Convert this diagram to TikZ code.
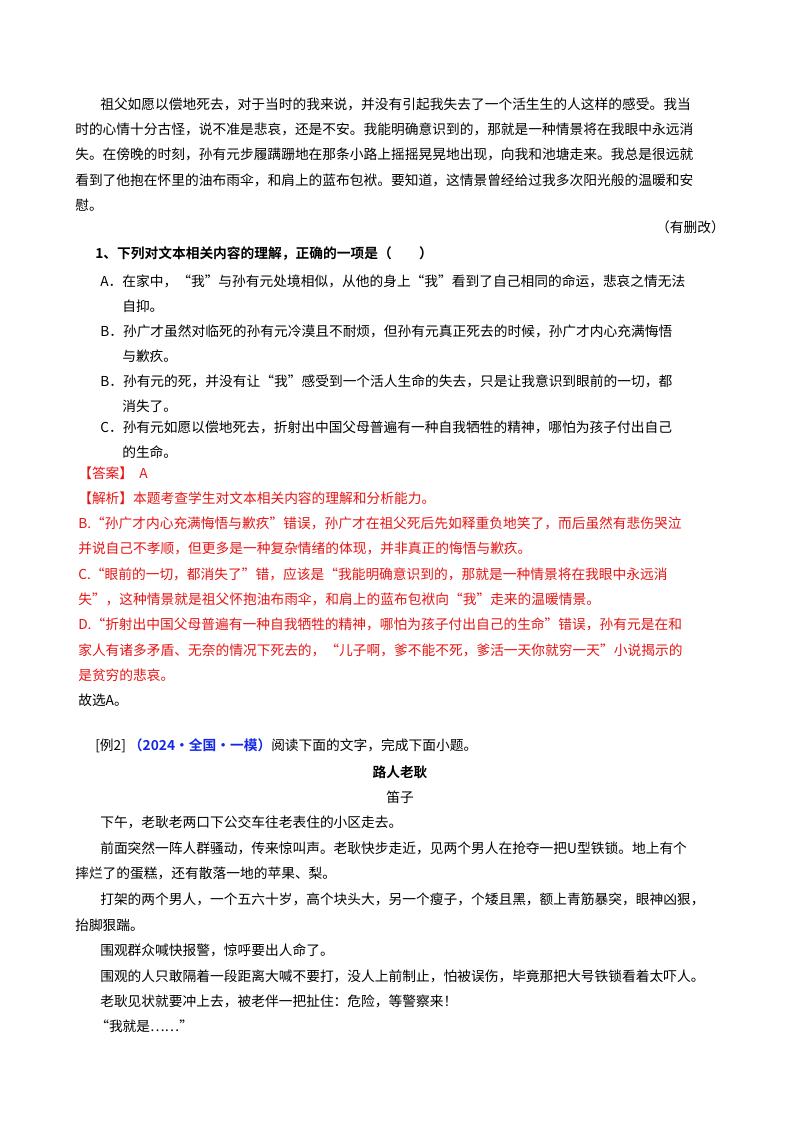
\documentclass[tikz,border=0pt]{standalone}
\usepackage{fontspec}
\setmainfont{Liberation Serif}
\newfontfamily\cjk{Noto Sans CJK SC}
\newfontfamily\cjkb{Noto Sans CJK SC Bold}
\definecolor{ansred}{RGB}{230,20,20}
\definecolor{exblue}{RGB}{20,40,230}
\begin{document}
\begin{tikzpicture}[x=0.75pt,y=-0.75pt,
  tx/.style={anchor=west,inner sep=0pt,font=\cjk\fontsize{10.3}{12}\selectfont},
  rd/.style={tx,text=ansred}]
\useasboundingbox (0,0) rectangle (800,1132);
\node[tx] (p1) at (100,104) {祖父如愿以偿地死去，对于当时的我来说，并没有引起我失去了一个活生生的人这样的感受。我当};
\node[tx] (p2) at (75,129) {时的心情十分古怪，说不准是悲哀，还是不安。我能明确意识到的，那就是一种情景将在我眼中永远消};
\node[tx] (p3) at (75,154) {失。在傍晚的时刻，孙有元步履蹒跚地在那条小路上摇摇晃晃地出现，向我和池塘走来。我总是很远就};
\node[tx] (p4) at (75,180) {看到了他抱在怀里的油布雨伞，和肩上的蓝布包袱。要知道，这情景曾经给过我多次阳光般的温暖和安};
\node[tx] (p5) at (75,205) {慰。};
\node[tx,anchor=east] (del) at (725,227) {（有删改）};
\node[tx,font=\cjkb\fontsize{10.3}{12}\selectfont] (q) at (95,254) {1、下列对文本相关内容的理解，正确的一项是（\qquad）};
\node[tx] (a1) at (100,281) {A．在家中，“我”与孙有元处境相似，从他的身上“我”看到了自己相同的命运，悲哀之情无法};
\node[tx] (a2) at (122,306) {自抑。};
\node[tx] (b1) at (100,331) {B．孙广才虽然对临死的孙有元冷漠且不耐烦，但孙有元真正死去的时候，孙广才内心充满悔悟};
\node[tx] (b2) at (122,356) {与歉疚。};
\node[tx] (c1) at (100,381) {B．孙有元的死，并没有让“我”感受到一个活人生命的失去，只是让我意识到眼前的一切，都};
\node[tx] (c2) at (122,406) {消失了。};
\node[tx] (d1) at (100,427) {C．孙有元如愿以偿地死去，折射出中国父母普遍有一种自我牺牲的精神，哪怕为孩子付出自己};
\node[tx] (d2) at (122,452) {的生命。};
\node[rd] (ans) at (78,473) {【答案】\ \ A};
\node[rd] (jx) at (78,498) {【解析】本题考查学生对文本相关内容的理解和分析能力。};
\node[rd] (r1) at (78,523) {B.“孙广才内心充满悔悟与歉疚”错误，孙广才在祖父死后先如释重负地笑了，而后虽然有悲伤哭泣};
\node[rd] (r2) at (78,548) {并说自己不孝顺，但更多是一种复杂情绪的体现，并非真正的悔悟与歉疚。};
\node[rd] (r3) at (78,574) {C.“眼前的一切，都消失了”错，应该是“我能明确意识到的，那就是一种情景将在我眼中永远消};
\node[rd] (r4) at (78,599) {失”，这种情景就是祖父怀抱油布雨伞，和肩上的蓝布包袱向“我”走来的温暖情景。};
\node[rd] (r5) at (78,624) {D.“折射出中国父母普遍有一种自我牺牲的精神，哪怕为孩子付出自己的生命”错误，孙有元是在和};
\node[rd] (r6) at (78,650) {家人有诸多矛盾、无奈的情况下死去的，“儿子啊，爹不能不死，爹活一天你就穷一天”小说揭示的};
\node[rd] (r7) at (78,675) {是贫穷的悲哀。};
\node[tx] (sel) at (78,700) {故选A。};
\node[tx] (ex) at (95,746) {[例2]\ {\cjkb\color{exblue}（2024·全国·一模）}阅读下面的文字，完成下面小题。};
\node[tx,anchor=center,font=\cjkb\fontsize{10.3}{12}\selectfont] (tt) at (400,772) {路人老耿};
\node[tx,anchor=center] (au) at (400,797) {笛子};
\node[tx] (s1) at (100,822) {下午，老耿老两口下公交车往老表住的小区走去。};
\node[tx] (s2) at (100,848) {前面突然一阵人群骚动，传来惊叫声。老耿快步走近，见两个男人在抢夺一把U型铁锁。地上有个};
\node[tx] (s3) at (75,873) {摔烂了的蛋糕，还有散落一地的苹果、梨。};
\node[tx] (s4) at (100,899) {打架的两个男人，一个五六十岁，高个块头大，另一个瘦子，个矮且黑，额上青筋暴突，眼神凶狠，};
\node[tx] (s5) at (75,925) {抬脚狠踹。};
\node[tx] (s6) at (100,950) {围观群众喊快报警，惊呼要出人命了。};
\node[tx] (s7) at (100,976) {围观的人只敢隔着一段距离大喊不要打，没人上前制止，怕被误伤，毕竟那把大号铁锁看着太吓人。};
\node[tx] (s8) at (100,1001) {老耿见状就要冲上去，被老伴一把扯住：危险，等警察来！};
\node[tx] (s9) at (95,1026) {“我就是……”};
\end{tikzpicture}
\end{document}
